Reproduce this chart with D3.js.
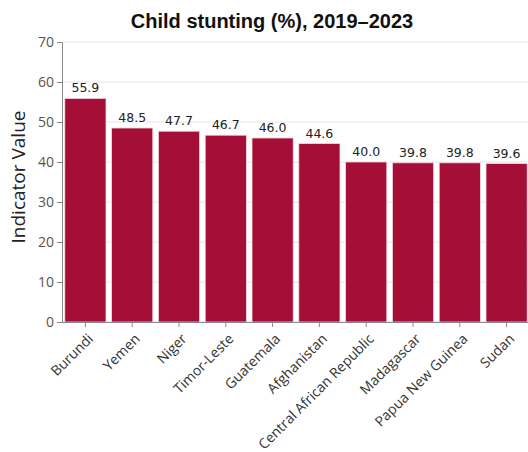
<!DOCTYPE html>
<html><head><meta charset="utf-8">
<script src="https://cdn.jsdelivr.net/npm/d3@7"></script>
<style>body{margin:0;background:#fff;} svg{display:block;}</style>
</head><body>
<svg id="chart" width="528" height="452"></svg>
<script>
const categories = ["Burundi","Yemen","Niger","Timor-Leste","Guatemala","Afghanistan","Central African Republic","Madagascar","Papua New Guinea","Sudan"];
const values = [55.9,48.5,47.7,46.7,46.0,44.6,40.0,39.8,39.8,39.6];
const yTicks = [0,10,20,30,40,50,60,70];
const titleText = "Child stunting (%), 2019–2023";
const yLabel = "Indicator Value";

const svg = d3.select("#chart");
const font = "'Open Sans', sans-serif";
const x = d3.scaleBand().domain(categories).range([62,530]).paddingInner(0.12).paddingOuter(0.06);
const y = d3.scaleLinear().domain([0,70]).range([322,42]);

// gridlines
svg.append("g").selectAll("line").data(yTicks).join("line")
  .attr("x1",62).attr("x2",528).attr("y1",d=>y(d)).attr("y2",d=>y(d))
  .attr("stroke","#e6e6e6").attr("stroke-width",1);

// bars
svg.append("g").selectAll("rect").data(values).join("rect")
  .attr("x",(d,i)=>x(categories[i])).attr("width",x.bandwidth())
  .attr("y",d=>y(d)).attr("height",d=>y(0)-y(d))
  .attr("fill","#a50e36").attr("stroke","#f0d8de").attr("stroke-width",0.8);

// value labels
svg.append("g").selectAll("text").data(values).join("text")
  .attr("x",(d,i)=>x(categories[i])+x.bandwidth()/2).attr("y",d=>y(d)-6)
  .attr("text-anchor","middle").attr("font-family","'DejaVu Sans', sans-serif")
  .attr("font-size",12.5).attr("fill","#222").text(d=>d.toFixed(1));

// y axis
const ya = svg.append("g").attr("transform","translate(62,0)")
  .call(d3.axisLeft(y).tickValues(yTicks).tickSize(5).tickSizeOuter(0));
ya.selectAll("text").attr("font-family",font).attr("font-size",14).attr("fill","#555");
ya.selectAll("line").attr("stroke","#888");
ya.select(".domain").attr("stroke","#888");

// x axis
const xa = svg.append("g").attr("transform","translate(0,322)")
  .call(d3.axisBottom(x).tickSize(5).tickSizeOuter(0));
xa.select(".domain").attr("stroke","#888").attr("d","M62,0.5H528");
xa.selectAll("line").attr("stroke","#888");
xa.selectAll("text").attr("font-family",font).attr("font-size",14).attr("fill","#333")
  .attr("text-anchor","end").attr("dx","0").attr("dy","0")
  .attr("transform","translate(3,12) rotate(-45)");

// title
svg.append("text").attr("x",272).attr("y",28).attr("text-anchor","middle")
  .attr("font-family","'Liberation Sans', Arial, sans-serif").attr("font-weight","bold")
  .attr("font-size",20).attr("fill","#111").text(titleText);

// y label
svg.append("text").attr("transform","translate(25,177) rotate(-90)")
  .attr("text-anchor","middle").attr("font-family",font).attr("font-size",19)
  .attr("fill","#222").text(yLabel);
</script>
</body></html>
